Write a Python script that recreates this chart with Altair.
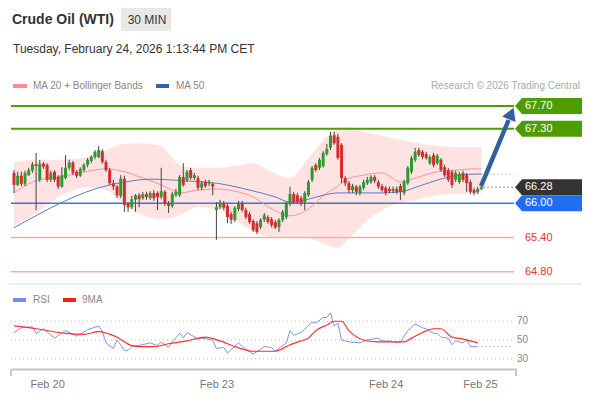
import altair as alt
import pandas as pd

FONT = "Liberation Sans"

# ---------------- candles (30 min) ----------------
opens = [66.53,66.32,66.48,66.34,66.49,66.57,66.68,66.41,66.69,66.67,
         66.41,66.55,66.46,66.29,66.44,66.62,66.71,66.55,66.48,66.58,
         66.67,66.74,66.81,66.81,66.91,66.72,66.58,66.35,66.29,66.13,
         66.43,66.00,65.93,66.06,66.14,66.09,66.16,66.09,66.18,66.18,
         66.11,66.20,66.00,65.95,66.14,66.14,66.46,66.41,66.58,66.44,
         66.44,66.27,66.37,66.34,66.34,65.88,65.93,66.00,65.95,65.81,
         65.71,65.90,66.00,65.88,65.81,65.69,65.65,65.58,65.71,65.76,
         65.72,65.67,65.58,65.71,65.76,65.99,66.16,66.14,66.09,66.02,
         66.14,66.41,66.67,66.62,66.65,66.86,66.97,67.19,67.16,67.02,
         66.44,66.35,66.23,66.29,66.18,66.27,66.35,66.37,66.46,66.37,
         66.30,66.27,66.25,66.21,66.25,66.30,66.18,66.35,66.55,66.76,
         66.93,66.90,66.86,66.70,66.84,66.70,66.76,66.63,66.58,66.55,
         66.41,66.37,66.53,66.49,66.37,66.23,66.20,66.25]
highs = [66.58,66.55,66.55,66.57,66.62,66.72,66.88,66.76,66.72,66.70,
         66.57,66.58,66.49,66.63,66.84,66.76,66.74,66.58,66.63,66.70,
         66.79,66.84,66.93,67.00,66.95,66.76,66.62,66.41,66.32,66.49,
         66.48,66.02,66.13,66.16,66.18,66.20,66.20,66.21,66.23,66.21,
         66.62,66.23,66.04,66.20,66.25,66.49,66.70,66.58,66.62,66.53,
         66.48,66.39,66.41,66.41,66.35,66.02,66.06,66.04,65.99,65.85,
         65.95,66.04,66.04,65.92,65.85,65.72,65.69,65.74,65.83,65.79,
         65.76,65.71,65.74,65.88,66.02,66.29,66.20,66.18,66.13,66.21,
         66.41,66.65,66.70,66.79,66.91,67.04,67.25,67.25,67.21,67.05,
         66.48,66.39,66.34,66.32,66.32,66.41,66.46,66.49,66.49,66.41,
         66.34,66.30,66.29,66.29,66.29,66.34,66.41,66.65,66.83,66.97,
         66.97,66.93,66.90,66.84,66.88,66.86,66.79,66.67,66.62,66.58,
         66.57,66.55,66.57,66.53,66.41,66.27,66.29,66.30]
lows = [66.18,66.30,66.30,66.30,66.48,66.53,65.88,66.37,66.60,66.37,
        66.37,66.37,66.25,66.27,66.42,66.58,66.49,66.44,66.46,66.55,
        66.63,66.70,66.77,66.79,66.69,66.55,66.32,66.23,66.09,66.09,
        65.85,65.85,65.90,65.85,65.93,66.06,66.06,66.06,66.04,65.88,
        66.07,65.95,65.83,65.92,66.11,66.11,66.29,66.37,66.41,66.41,
        66.23,66.23,66.27,66.30,66.14,65.36,65.90,65.88,65.65,65.64,
        65.67,65.86,65.85,65.72,65.64,65.50,65.46,65.55,65.67,65.64,
        65.58,65.55,65.50,65.67,65.72,65.95,65.99,65.99,65.95,65.88,
        66.11,66.37,66.55,66.58,66.62,66.83,66.93,67.02,66.76,66.35,
        66.30,66.18,66.18,66.14,66.14,66.23,66.32,66.34,66.35,66.25,
        66.20,66.14,66.18,66.18,66.16,66.06,66.14,66.32,66.51,66.72,
        66.81,66.77,66.76,66.67,66.63,66.67,66.55,66.46,66.37,66.27,
        66.37,66.34,66.37,66.20,66.16,66.14,66.16,66.23]
closes = [66.32,66.48,66.34,66.53,66.58,66.68,66.65,66.69,66.64,66.41,
          66.53,66.41,66.29,66.49,66.62,66.71,66.53,66.48,66.60,66.67,
          66.76,66.81,66.90,66.93,66.72,66.58,66.35,66.29,66.14,66.43,
          65.97,65.93,66.07,66.14,66.07,66.16,66.11,66.18,66.09,66.11,
          66.21,65.99,65.95,66.16,66.20,66.46,66.32,66.55,66.44,66.49,
          66.27,66.35,66.30,66.37,66.29,65.93,66.02,65.92,65.76,65.71,
          65.92,66.00,65.88,65.76,65.67,65.53,65.50,65.71,65.79,65.67,
          65.62,65.58,65.71,65.85,65.99,66.16,66.02,66.02,66.00,66.18,
          66.37,66.62,66.58,66.76,66.88,66.95,67.18,67.05,66.79,66.44,
          66.35,66.23,66.30,66.20,66.29,66.37,66.41,66.46,66.39,66.29,
          66.23,66.18,66.21,66.25,66.20,66.20,66.37,66.62,66.79,66.90,
          66.84,66.81,66.79,66.81,66.67,66.83,66.58,66.49,66.41,66.32,
          66.53,66.51,66.41,66.35,66.20,66.18,66.25,66.28]

day_tick_idx = [9, 55, 101, 126.6]
day_tick_lbl = ["Feb 20", "Feb 23", "Feb 24", "Feb 25"]

# ---------------- MA 20 + Bollinger bands ----------------
band_idx = [0,5,10,15,20,25,30,35,40,43,45,50,55,60,65,70,75,80,85,88,90,95,100,105,110,115,120,125,127]
band_upper = [66.72,66.76,66.76,66.77,66.81,66.93,67.04,67.05,67.00,66.79,66.67,66.62,66.62,66.65,66.70,
              66.55,66.44,66.79,67.16,67.30,67.33,67.25,67.18,67.11,67.05,67.00,66.98,66.98,66.98]
band_lower = [65.62,65.78,66.02,66.20,66.28,66.23,65.97,65.79,65.72,65.74,65.79,65.93,65.90,65.71,65.51,
              65.41,65.41,65.39,65.27,65.22,65.32,65.64,65.88,66.00,66.07,66.14,66.16,66.18,66.18]
ma20_vals = [66.18,66.37,66.44,66.49,66.56,66.60,66.55,66.44,66.32,66.23,66.18,66.23,66.25,66.21,66.11,
             65.90,65.78,65.90,66.18,66.30,66.41,66.49,66.53,66.37,66.46,66.55,66.58,66.60,66.60]

# ---------------- MA 50 ----------------
ma50_idx = [0,26,30,37,42,47,55,64,71,75,80,84,88,100,105,111,117,121,126,127]
ma50_vals = [65.57,66.32,66.37,66.42,66.41,66.39,66.35,66.23,66.11,66.02,66.07,66.14,66.18,66.18,66.20,
             66.32,66.44,66.49,66.51,66.51]

# ---------------- RSI + 9MA ----------------
rsi_idx = [0,2,5,6,8,11,14,17,20,23,24,25,27,28,30,31,32,35,37,39,40,42,43,45,46,47,50,51,54,55,
           57,58,61,62,65,68,70,71,74,75,76,78,81,82,84,85,86,87,88,89,91,94,96,99,100,102,104,105,
           107,109,111,112,114,115,116,118,119,120,122,123,124,126]
rsi_vals = [58,63,64,57,62,52,60,54,61,65,59,47,41,50,39,39,43,45,47,44,48,42,48,57,52,58,51,52,50,41,
            42,36,47,43,35,43,42,38,47,60,55,58,69,68,74,74,79,65,68,50,48,47,50,52,49,49,47,48,
            60,67,63,62,57,57,53,52,45,49,47,50,43,43]
ma9_idx = [0,6,14,19,23,28,32,34,38,42,47,52,56,60,65,71,75,78,80,82,85,87,89,91,95,99,102,106,108,111,
           114,116,119,122,126]
ma9_vals = [65,62,57,56,59,53,44,43,43,46,49,53,49,43,38,38,45,49,52,60,66,70,70,60,50,48,48,48,52,58,
            62,62,53,51,47]
rsi_levels = [70, 50, 30]

# ---------------- levels ----------------
target_levels = [67.70, 67.30]
pivot_level = [66.00]
support_levels = [65.40, 64.80]
last_close = [66.28]
ma50_last = [66.51]
rsi_last = [43]
ext_start, ext_end = 127.6, 135.8
arrow_idx = [126.9, 134.4]
arrow_price = [66.30, 67.455]
head_idx = [135.1]
head_price = [67.569]

# ---------------- tables ----------------
n = len(closes)
candles = pd.DataFrame({"i": list(range(n)), "open": opens, "high": highs, "low": lows, "close": closes})
candles["dir"] = ["up" if c >= o else "down" for o, c in zip(opens, closes)]
band_df = pd.DataFrame({"i": band_idx, "upper": band_upper, "lower": band_lower, "ma20": ma20_vals})
ma50_df = pd.DataFrame({"i": ma50_idx, "v": ma50_vals})
rsi_df = pd.DataFrame({"i": rsi_idx, "v": rsi_vals})
ma9_df = pd.DataFrame({"i": ma9_idx, "v": ma9_vals})
one = pd.DataFrame({"k": [0]})

W, H = 505, 274
xs = alt.Scale(domain=[-0.815, 136.4], nice=False, zero=False, padding=0)
ps = alt.Scale(domain=[63.102, 67.892], nice=False, zero=False, padding=0)
rs = alt.Scale(domain=[19.07, 311.3], nice=False, zero=False, padding=0)

label_expr = " : ".join(f"datum.value == {v} ? '{l}'" for v, l in zip(day_tick_idx, day_tick_lbl)) + " : ''"
xaxis = alt.Axis(values=day_tick_idx, labelExpr=label_expr, ticks=False, grid=False,
                 domainColor="#c6c6c6", domainWidth=2, labelColor="#777", labelFontSize=11,
                 labelFont=FONT, labelPadding=9, title=None, labelOverlap=False, labelFlush=False)


def X(f="i"):
    return alt.X(f"{f}:Q", scale=xs, axis=xaxis)


def Y(f):
    return alt.Y(f"{f}:Q", scale=ps, axis=None)


def R(f):
    return alt.Y(f"{f}:Q", scale=rs, axis=None)


def txt(s, x, y, size=10, color="#888", weight="normal", align="left"):
    return alt.Chart(one).mark_text(text=s, font=FONT, fontSize=size, color=color, fontWeight=weight,
                                    align=align, baseline="middle").encode(x=alt.value(x), y=alt.value(y))


def box(x1, x2, y1, y2, color):
    return alt.Chart(one).mark_rect(color=color).encode(
        x=alt.value(x1), x2=alt.value(x2), y=alt.value(y1), y2=alt.value(y2))


def hrule(x1, x2, y, color, w):
    return alt.Chart(one).mark_rule(color=color, strokeWidth=w).encode(
        x=alt.value(x1), x2=alt.value(x2), y=alt.value(y))


def vrule(x, y1, y2, color, w):
    return alt.Chart(one).mark_rule(color=color, strokeWidth=w).encode(
        x=alt.value(x), y=alt.value(y1), y2=alt.value(y2))


def level_rules(vals, color, w):
    return alt.Chart(pd.DataFrame({"price": vals})).mark_rule(color=color, strokeWidth=w).encode(
        y=Y("price"), x=alt.value(0), x2=alt.value(503))


TAG = "M -1 0 L -0.791 -0.239 L 1 -0.239 L 1 0.239 L -0.791 0.239 Z"


def tag(vals, color):
    d = pd.DataFrame({"price": vals})
    shape = alt.Chart(d).mark_point(shape=TAG, size=4489, filled=True, opacity=1, strokeWidth=0,
                                    color=color).encode(x=alt.value(537.5), y=Y("price"))
    label = alt.Chart(d).mark_text(align="left", baseline="middle", color="white", fontSize=11,
                                   font=FONT).encode(x=alt.value(514), y=Y("price"),
                                                     text=alt.Text("price:Q", format=".2f"))
    return [shape, label]


band = alt.Chart(band_df).mark_area(color="#ffe3e3", interpolate="monotone").encode(
    x=X(), y=Y("upper"), y2="lower:Q")
ma20 = alt.Chart(band_df).mark_line(color="#f79393", strokeWidth=1, interpolate="monotone").encode(
    x=X(), y=Y("ma20"))
ma50 = alt.Chart(ma50_df).mark_line(color="#5a7cbc", strokeWidth=1, interpolate="monotone").encode(
    x=X(), y=Y("v"))
wicks = alt.Chart(candles).mark_rule(color="#444", strokeWidth=1).encode(x=X(), y=Y("low"), y2="high:Q")
up = alt.Chart(candles).transform_filter(alt.datum.dir == "up").mark_bar(size=3, color="#2e9a2e").encode(
    x=X(), y=Y("open"), y2="close:Q")
down = alt.Chart(candles).transform_filter(alt.datum.dir == "down").mark_bar(size=3, color="#d92b2b").encode(
    x=X(), y=Y("open"), y2="close:Q")

ext_close = alt.Chart(pd.DataFrame({"i": [ext_start], "i2": [ext_end], "price": last_close})).mark_rule(
    color="#333", strokeDash=[1, 3], strokeWidth=1).encode(x=X(), x2="i2:Q", y=Y("price"))
ext_ma50 = alt.Chart(pd.DataFrame({"i": [127], "i2": [ext_end], "price": ma50_last})).mark_rule(
    color="#7f9fd3", strokeDash=[1, 3], strokeWidth=1).encode(x=X(), x2="i2:Q", y=Y("price"))

arrow = alt.Chart(pd.DataFrame({"i": arrow_idx, "price": arrow_price})).mark_line(
    color="#30609f", strokeWidth=4.5, strokeCap="butt").encode(x=X(), y=Y("price"))
head = alt.Chart(pd.DataFrame({"i": head_idx, "price": head_price})).mark_point(
    shape="triangle-up", size=210, filled=True, opacity=1, color="#30609f", angle=22).encode(
    x=X(), y=Y("price"))

support_txt = alt.Chart(pd.DataFrame({"price": support_levels})).mark_text(
    align="left", baseline="middle", color="#e8322b", fontSize=11, font=FONT).encode(
    x=alt.value(514), y=Y("price"), text=alt.Text("price:Q", format=".2f"))

price_panel = alt.layer(
    band,
    level_rules(target_levels, "#4e9d00", 2),
    level_rules(support_levels, "#f6aeae", 1.5),
    level_rules(pivot_level, "#3a76e0", 1.5),
    ma20, ma50, wicks, up, down, ext_close, ext_ma50, arrow, head,
    *tag(target_levels, "#4e9d00"), *tag(last_close, "#333333"), *tag(pivot_level, "#1f6ff2"),
    support_txt,
)

rgrid = alt.Chart(pd.DataFrame({"v": rsi_levels})).mark_rule(color="#bdbdbd", strokeDash=[1, 3]).encode(
    y=R("v"), x=alt.value(0), x2=alt.value(502))
rlabels = alt.Chart(pd.DataFrame({"v": rsi_levels})).mark_text(
    align="left", baseline="middle", color="#888", fontSize=10, font=FONT).encode(
    x=alt.value(506), y=R("v"), text="v:Q")
rsi_line = alt.Chart(rsi_df).mark_line(color="#7896ee", strokeWidth=1).encode(x=X(), y=R("v"))
ma9_line = alt.Chart(ma9_df).mark_line(color="#ff2f2f", strokeWidth=1.2, interpolate="monotone").encode(
    x=X(), y=R("v"))
rsi_ext = alt.Chart(pd.DataFrame({"i": [127], "i2": [ext_end], "v": rsi_last})).mark_rule(
    color="#7896ee", strokeDash=[1, 3]).encode(x=X(), x2="i2:Q", y=R("v"))

rsi_panel = alt.layer(rgrid, rlabels, rsi_line, ma9_line, rsi_ext)

decor = [
    box(110, 160, -87, -64, "#e8e8e8"),
    hrule(-3, 571, 189, "#ededed", 2),
    vrule(0, 274, 281, "#c6c6c6", 2),
    vrule(505, 274, 281, "#c6c6c6", 2),
    txt("Crude Oil (WTI)", 1, -75.5, size=14, color="#333", weight="bold"),
    txt("30 MIN", 136, -75.5, size=12, color="#333", align="center"),
    txt("Tuesday, February 24, 2026 1:13:44 PM CET", 2, -46.5, size=12, color="#333"),
    box(2, 16, -11, -7, "#ff8a8a"),
    txt("MA 20 + Bollinger Bands", 22, -9, size=10, color="#888"),
    box(145, 158, -11, -7, "#3565a8"),
    txt("MA 50", 165, -9, size=10, color="#888"),
    txt("Research \u00a9 2026 Trading Central", 569, -9, size=10, color="#aaa", align="right"),
    box(2, 15, 203, 207, "#6f8ff0"),
    txt("RSI", 22, 205, size=10, color="#888"),
    box(52, 65, 203, 207, "#ff1a1a"),
    txt("9MA", 71, 205, size=10, color="#888"),
]

chart = alt.layer(*decor, price_panel, rsi_panel).resolve_scale(y="independent").properties(
    width=W, height=H,
    autosize=alt.AutoSizeParams(type="none"),
    padding={"left": 3, "top": 87, "right": 66, "bottom": 20},
    background="white",
).configure_view(stroke=None)

chart.save("out.html", embed_options={"renderer": "svg", "actions": False})
